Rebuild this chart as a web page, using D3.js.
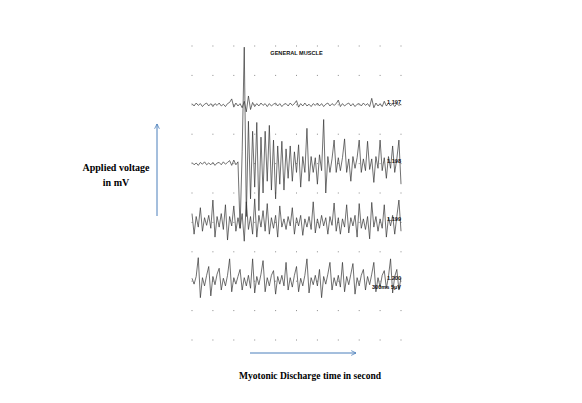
<!DOCTYPE html>
<html>
<head>
<meta charset="utf-8">
<script src="https://cdn.jsdelivr.net/npm/d3@7"></script>
<style>
  html, body { margin: 0; padding: 0; background: #fff; }
  body { width: 582px; height: 403px; overflow: hidden; }
</style>
</head>
<body>
<script>
const width = 582, height = 403

// time in ms (300 ms / division), voltage in uV (5 uV / division)
const timeTicks = d3.range(0, 3001, 300)
const voltTicks = d3.range(0, 51, 5)
const sampleTimes = d3.range(0, 3001, 30)

const traceLabels = ['1.197', '1.198', '1.199', '1.200']
const traceOffsets = [40, 30, 20, 10]

const trace1 = [
  0.2, -0.2, 0.3, -0.1, 0.2, -0.3, 0.1, 0.3, -0.2, 0.2,
  -0.3, 0.2, -0.1, 0.3, -0.2, 0.1, -0.3, 0.2, 0.4, 1.0,
  -0.4, 0.3, -0.2, 0.2, -0.5, 0.6, -1.2, 1.5, -0.8, 0.4,
  -0.3, 0.2, -0.2, 0.3, -0.1, 0.2, -0.3, 0.2, -0.2, 0.1,
  0.3, -0.2, 0.2, -0.3, 0.1, 0.2, -0.2, 0.3, -0.1, 0.2,
  0.7, -0.4, 0.2, -0.2, 0.3, -0.2, 0.1, -0.3, 0.2, -0.1,
  0.3, -0.2, 0.2, -0.3, 0.1, 0.3, -0.2, 0.2, -0.1, 0.2,
  0.8, -0.3, 0.2, -0.2, 0.1, 0.3, -0.2, 0.2, -0.3, 0.1,
  0.2, -0.2, 0.3, -0.1, 0.2, -0.3, 1.1, -0.5, 0.3, -0.2,
  0.2, -0.3, 0.6, -0.2, 0.3, -0.2, 0.2, -0.3, 0.2, -0.1, 0.1
]

const trace2 = [
  0.2, -0.2, 0.1, -0.3, 0.2, -0.1, 0.3, -0.2, 0.1, -0.2,
  0.2, -0.3, 0.1, 0.2, -0.2, 0.3, -0.1, 0.2, 0.5, -0.3,
  0.6, -0.2, 0.3, -11, 2, 19.8, -9, 7.2, -6, 5.5,
  -4, 7.0, -8, 4.5, -5, 5.5, -3, 6.5, -4.5, 4.0,
  -6, 3.0, -3.5, 3.8, -4.5, 2.5, -2.5, 3.0, -3.0, 2.0,
  -1.5, 3.2, -4.0, 1.2, -1.5, 6.0, -3.0, 1.2, -1.5, 1.0,
  -3.5, 1.5, -1.2, 7.5, -5.0, 1.2, -1.5, 0.8, 4.0, -1.5,
  1.0, -1.2, 1.0, 4.2, -1.5, 0.8, -3.0, 1.2, -0.8, 1.0,
  4.0, -1.5, 0.8, -1.2, 3.8, -1.0, 0.8, -3.2, 1.2, -0.8,
  4.0, -1.2, 1.0, -2.5, 1.2, -0.8, 3.0, -1.5, 0.8, 4.0, -3.5
]

const trace3 = [
  1.5, -2.0, 1.0, -0.8, 2.5, -1.5, 0.8, -0.5, 1.2, -1.0,
  3.8, -2.5, 1.0, -0.8, 1.5, -1.2, 3.0, -3.0, 1.0, -0.6,
  2.8, -1.5, 0.8, -1.0, 1.5, -3.2, 3.5, -1.2, 1.0, -2.0,
  4.0, -2.5, 1.2, -0.8, 2.0, -1.5, 3.2, -2.0, 0.8, -1.0,
  1.2, -2.5, 2.8, -0.8, 0.6, -1.2, 1.0, -0.6, 2.5, -2.0,
  0.8, -0.6, 1.2, -2.2, 0.6, -0.8, 1.0, -1.2, 3.5, -1.8,
  0.6, -1.0, 1.2, -0.6, 0.8, -2.0, 1.0, -0.5, 3.3, -1.5,
  0.8, -2.0, 0.6, -0.8, 3.0, -1.8, 0.8, -0.6, 1.2, -2.5,
  3.2, -1.0, 0.6, -1.2, 1.0, -2.8, 3.4, -0.8, 1.0, -1.5,
  0.6, -1.0, 3.0, -2.5, 0.8, -0.6, 1.2, -2.0, 1.0, 3.8, -1.5
]

const trace4 = [
  0.5, -0.5, 0.8, 4.0, -2.8, 0.6, -0.8, 1.0, 2.5, -2.5,
  0.8, -0.6, 1.2, 2.2, -1.5, 0.5, -0.8, 1.0, 3.8, -1.8,
  0.6, -0.5, 0.8, 2.0, -1.5, 0.6, -0.8, 1.0, -1.2, 3.8,
  -2.0, 0.8, -0.6, 1.2, 3.5, -1.8, 0.6, -0.8, 1.0, 1.8,
  -2.2, 0.8, -0.5, 1.0, -0.8, 3.2, -1.5, 0.6, -1.0, 1.0,
  2.5, -1.8, 0.5, -0.8, 1.0, 3.8, -2.0, 0.6, -0.6, 1.0,
  -0.8, 2.0, -2.8, 0.8, -0.5, 1.2, 3.2, -1.5, 0.6, -0.8,
  1.0, -1.0, 3.2, -1.8, 0.8, -0.6, 1.2, 3.0, -2.2, 0.6,
  -0.8, 1.0, 2.0, -1.5, 0.8, -0.6, 1.2, 3.2, -1.8, 0.6,
  -1.0, 1.0, 1.8, -1.2, 0.8, 3.8, -2.0, 0.8, 2.0, -1.5, 0.6
]

const traces = [trace1, trace2, trace3, trace4]

const x = d3.scaleLinear().domain([0, 3000]).range([192, 401])
const y = d3.scaleLinear().domain([0, 50]).range([340, 46])

const svg = d3.select('body')
  .append('svg')
  .attr('width', width)
  .attr('height', height)

// dotted grid
const grid = svg.append('g').attr('fill', '#8a8a8a')
voltTicks.forEach(v => {
  grid.selectAll(null).data(timeTicks).enter()
    .append('rect')
    .attr('x', d => x(d) - 0.5)
    .attr('y', y(v) - 0.5)
    .attr('width', 1)
    .attr('height', 1)
})

const small = svg.append('g')
  .attr('font-family', 'Liberation Sans, Arial, sans-serif')
  .attr('font-weight', 'bold')
  .attr('font-size', 5.6)
  .attr('fill', '#111')

small.append('text')
  .attr('x', x(1500))
  .attr('y', 54.5)
  .attr('text-anchor', 'middle')
  .text('GENERAL MUSCLE')

const line = d3.line()
  .x((d, i) => x(sampleTimes[i]))

svg.append('g')
  .attr('fill', 'none')
  .attr('stroke', '#333')
  .attr('stroke-width', 0.7)
  .selectAll('path').data(traces).enter()
  .append('path')
  .attr('d', (d, k) => line.y(v => y(traceOffsets[k] + v))(d))

const labels = svg.append('g')
  .attr('font-family', 'Liberation Sans, Arial, sans-serif')
  .attr('font-weight', 'bold')
  .attr('font-size', 5.6)
  .attr('fill', '#111')
  .attr('text-anchor', 'end')

labels.selectAll('text').data(traceLabels).enter()
  .append('text')
  .attr('x', x(3000))
  .attr('y', (d, k) => y(traceOffsets[k]) - 1)
  .text(d => d)

labels.append('text')
  .attr('x', x(3000))
  .attr('y', y(traceOffsets[3]) + 8)
  .text('300ms 5µV')

// arrows
svg.append('defs').append('marker')
  .attr('id', 'head')
  .attr('viewBox', '0 0 10 10')
  .attr('refX', 9)
  .attr('refY', 5)
  .attr('markerWidth', 6)
  .attr('markerHeight', 6)
  .attr('orient', 'auto')
  .append('path')
  .attr('d', 'M1,1 L9,5 L1,9')
  .attr('fill', 'none')
  .attr('stroke', '#4a7ebb')
  .attr('stroke-width', 1.3)

svg.append('line')
  .attr('x1', 157).attr('y1', 216)
  .attr('x2', 157).attr('y2', 124)
  .attr('stroke', '#4a7ebb')
  .attr('stroke-width', 1)
  .attr('marker-end', 'url(#head)')

svg.append('line')
  .attr('x1', 250).attr('y1', 353)
  .attr('x2', 356).attr('y2', 353)
  .attr('stroke', '#4a7ebb')
  .attr('stroke-width', 1)
  .attr('marker-end', 'url(#head)')

const serif = 'Liberation Serif, Times New Roman, serif'

svg.append('text')
  .attr('x', 116)
  .attr('y', 171)
  .attr('text-anchor', 'middle')
  .attr('font-family', serif)
  .attr('font-weight', 'bold')
  .attr('font-size', 10)
  .text('Applied voltage')

svg.append('text')
  .attr('x', 116)
  .attr('y', 186)
  .attr('text-anchor', 'middle')
  .attr('font-family', serif)
  .attr('font-weight', 'bold')
  .attr('font-size', 10)
  .text('in mV')

svg.append('text')
  .attr('x', 310)
  .attr('y', 379)
  .attr('text-anchor', 'middle')
  .attr('font-family', serif)
  .attr('font-weight', 'bold')
  .attr('font-size', 9.5)
  .text('Myotonic Discharge time in second')
</script>
</body>
</html>
